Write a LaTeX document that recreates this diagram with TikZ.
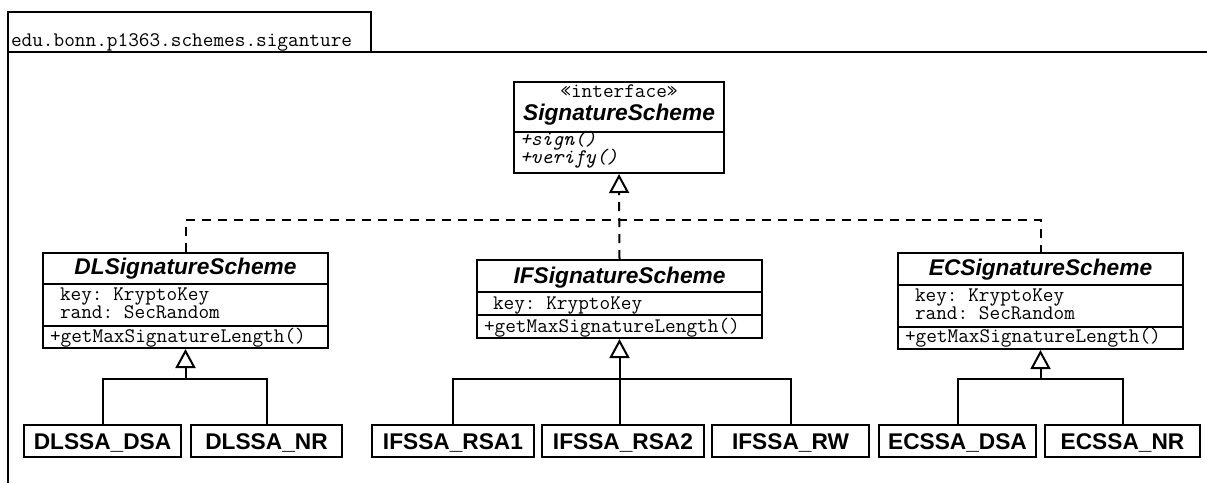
\documentclass[tikz,border=0pt]{standalone}
\usepackage{fontspec}
\setmainfont{Liberation Sans}
\setmonofont{Latin Modern Mono}
\usetikzlibrary{arrows.meta}

\begin{document}
\begin{tikzpicture}[x=1pt, y=-1pt, line width=2pt,
  classbox/.style={draw, line width=2pt, inner sep=0pt, fill=white},
  leafbox/.style={classbox, minimum height=32pt,
    font=\bfseries\fontsize{22.7}{26}\selectfont, text height=16pt, text depth=0pt},
  title/.style={inner sep=0pt, anchor=base, font=\bfseries\itshape\fontsize{22.7}{26}\selectfont},
  mono/.style={inner sep=0pt, anchor=base west, text height=11pt, text depth=3pt,
    font=\ttfamily\fontsize{20.7}{22}\selectfont},
  monoit/.style={mono, font=\ttfamily\itshape\fontsize{20.7}{22}\selectfont},
  gen/.style={-{Triangle[open, length=19pt, width=20pt, line width=2pt]}},
  realize/.style={dash pattern=on 9pt off 7pt},
]
\useasboundingbox (0,0) rectangle (1207,483);

% package tab and frame
\draw (8,12) rectangle (371,52);
\node[mono] (pkg) at (10,46) {edu.bonn.p1363.schemes.siganture};
\draw (8,483) -- (8,52) -- (1207,52);

% interface
\node[classbox, minimum width=210pt, minimum height=91pt] (iface) at (619,127.5) {};
\draw (iface.west |- 0,132) -- (iface.east |- 0,132);
\node[mono, anchor=base] (stereo) at (619,97) {«interface»};
\node[title] (ifacet) at (619,120) {SignatureScheme};
\node[monoit] (msign) at (519,145) {+sign()};
\node[monoit] (mverify) at (519,163.5) {+verify()};

% abstract schemes
\node[classbox, minimum width=285pt, minimum height=95pt] (dl) at (185.5,300.5) {};
\draw (dl.west |- 0,284) -- (dl.east |- 0,284);
\draw (dl.west |- 0,326) -- (dl.east |- 0,326);
\node[title] (dlt) at (185.5,274) {DLSignatureScheme};
\node[mono] (dlk) at (59,300) {key: KryptoKey};
\node[mono] (dlr) at (59,318.5) {rand: SecRandom};
\node[mono] (dlm) at (49,342) {+getMaxSignatureLength()};

\node[classbox, minimum width=285pt, minimum height=78pt] (if) at (619.5,299) {};
\draw (if.west |- 0,292) -- (if.east |- 0,292);
\draw (if.west |- 0,315) -- (if.east |- 0,315);
\node[title] (ift) at (619.5,283) {IFSignatureScheme};
\node[mono] (ifk) at (492,309) {key: KryptoKey};
\node[mono] (ifm) at (483,332) {+getMaxSignatureLength()};

\node[classbox, minimum width=285pt, minimum height=96pt] (ec) at (1040.5,301) {};
\draw (ec.west |- 0,285) -- (ec.east |- 0,285);
\draw (ec.west |- 0,327) -- (ec.east |- 0,327);
\node[title] (ect) at (1040.5,275) {ECSignatureScheme};
\node[mono] (eck) at (914,301) {key: KryptoKey};
\node[mono] (ecr) at (914,319.5) {rand: SecRandom};
\node[mono] (ecm) at (904,342) {+getMaxSignatureLength()};

% concrete schemes
\node[leafbox, minimum width=157pt] (dla) at (102.5,441) {DLSSA\_DSA};
\node[leafbox, minimum width=151pt] (dlb) at (266.5,441) {DLSSA\_NR};
\node[leafbox, minimum width=162pt] (ifa) at (453,441) {IFSSA\_RSA1};
\node[leafbox, minimum width=162pt] (ifb) at (623,441) {IFSSA\_RSA2};
\node[leafbox, minimum width=157pt] (ifc) at (790.5,441) {IFSSA\_RW};
\node[leafbox, minimum width=157pt] (eca) at (957.5,441) {ECSSA\_DSA};
\node[leafbox, minimum width=155pt] (ecb) at (1122.5,441) {ECSSA\_NR};

% realizations of the interface
\coordinate (rj) at (619.5,220);
\draw[realize] (dl.north) |- (rj) -| (ec.north);
\draw[realize, gen] (if.north) -- (iface.south);

% generalizations
\coordinate (dlj) at (185.5,379);
\draw[gen] (dlj) -- (dl.south);
\draw (dla.north) |- (dlj) -| (dlb.north);

\coordinate (ifj) at (619.5,379);
\draw[gen] (ifj |- ifb.north) -- (if.south);
\draw (ifa.north) |- (ifj) -| (ifc.north);

\coordinate (ecj) at (1040.5,379);
\draw[gen] (ecj) -- (ec.south);
\draw (eca.north) |- (ecj) -| (ecb.north);
\end{tikzpicture}
\end{document}
